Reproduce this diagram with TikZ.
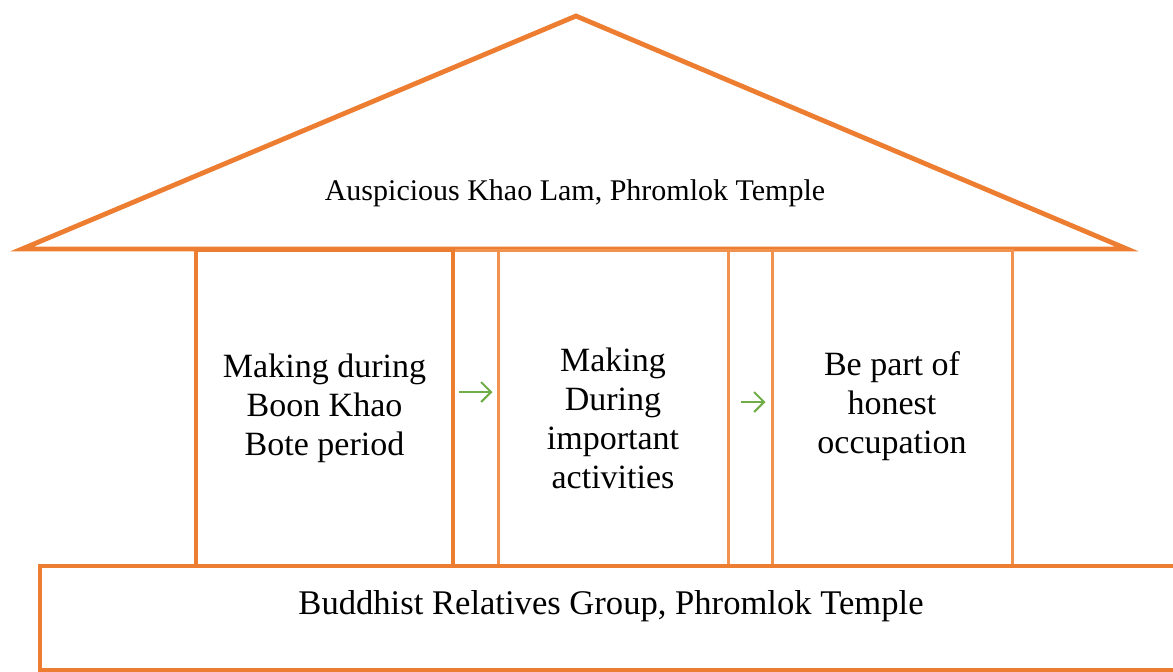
\documentclass[tikz,border=0pt]{standalone}
\usepackage{fontspec}
\setmainfont{Liberation Serif}
\usetikzlibrary{arrows.meta}
\definecolor{roofline}{HTML}{ED7D31}
\definecolor{pillarline}{HTML}{F1924F}
\definecolor{flowgreen}{HTML}{70AD47}
\tikzset{
  pillar/.style={draw=pillarline, line width=1.5pt, minimum height=158pt, inner sep=0pt},
  pillartext/.style={align=center, inner sep=0pt, font=\fontsize{17}{19.5}\selectfont},
  flow/.style={draw=flowgreen, line width=1pt, -{Straight Barb[length=5pt,width=10pt]}}
}
\begin{document}
\begin{tikzpicture}[x=0.5pt,y=-0.5pt]
\useasboundingbox (0,0) rectangle (1173,671);
% roof
\draw[roofline, line width=2.4pt] (22,249) -- (576,16) -- (1127,249) -- cycle;
\node[font=\fontsize{15}{17}\selectfont] (title) at (575,193) {Auspicious Khao Lam, Phromlok Temple};
% pillars
\node[pillar, minimum width=22.5pt] (gapa) at (475.5,408) {};
\node[pillar, minimum width=22pt] (gapb) at (750,408) {};
\node[pillar, draw=roofline, line width=2pt, minimum width=128.5pt] (making) at (324.5,408) {};
\node[pillar, minimum width=115pt] (during) at (613,408) {};
\node[pillar, minimum width=120pt] (part) at (892,408) {};
\node[pillartext] (makingtext) at (324.5,408) {Making during\\Boon Khao\\Bote period};
\node[pillartext] (duringtext) at (613,418) {Making\\During\\important\\activities};
\node[pillartext] (parttext) at (892,406) {Be part of\\honest\\occupation};
\draw[flow, shorten <=2pt, shorten >=2pt] ([yshift=8pt]making.east) -- ([yshift=8pt]during.west);
\draw[flow, shorten <=5.5pt, shorten >=2.5pt] ([yshift=3pt]during.east) -- ([yshift=3pt]part.west);
% base
\node[draw=roofline, line width=2pt, minimum width=571pt, minimum height=52pt, inner sep=0pt] (group) at (611,618) {};
\node[font=\fontsize{17.3}{20}\selectfont] (grouptext) at (611,606) {Buddhist Relatives Group, Phromlok Temple};
\end{tikzpicture}
\end{document}
